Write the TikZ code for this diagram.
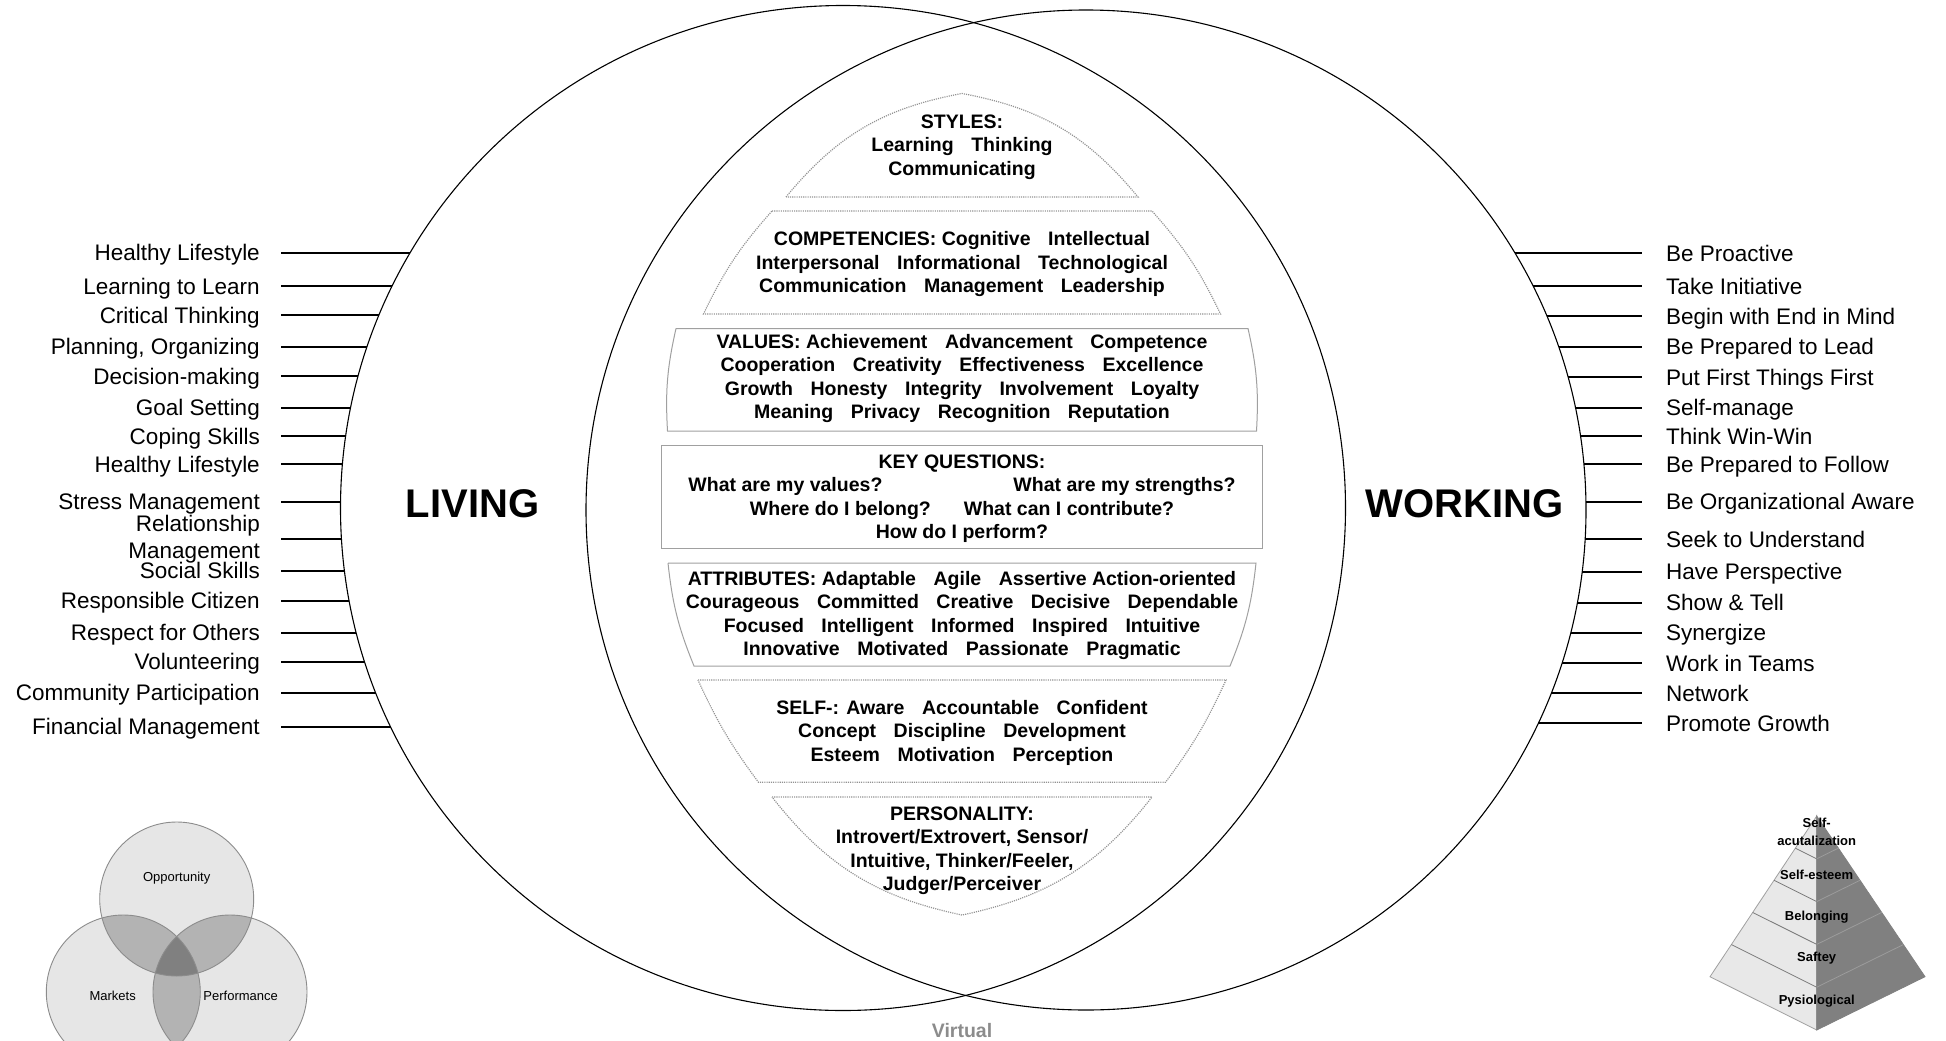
\documentclass[tikz,border=0pt]{standalone}
\usepackage{fontspec}
\setmainfont{Liberation Sans}
\usetikzlibrary{calc}
\newcommand\labfont{\fontsize{22.5pt}{26.7pt}\selectfont}
\newcommand\ctfont{\fontsize{19.5pt}{23.5pt}\selectfont\bfseries}
\newcommand\wsep{\hspace{0.9em}}
\definecolor{shapegray}{HTML}{A0A0A0}
\definecolor{dotgray}{HTML}{929292}
\definecolor{vennA}{HTML}{E6E6E6}
\definecolor{vennB}{HTML}{B3B3B3}
\definecolor{vennC}{HTML}{808080}
\definecolor{vennline}{HTML}{8C8C8C}
\definecolor{pyrlight}{HTML}{E8E8E8}
\definecolor{pyrdark}{HTML}{808080}
\definecolor{pyrlineL}{HTML}{7A7A7A}
\definecolor{pyrlineR}{HTML}{9C9C9C}
\definecolor{virt}{HTML}{8C8C8C}
\begin{document}
\begin{tikzpicture}[x=1pt,y=-1pt,
  bigcircle/.style={draw=black, line width=1.1pt},
  labline/.style={draw=black, line width=2pt},
  llab/.style={font=\labfont, anchor=east, inner sep=0pt, text height=16.2pt, text depth=0pt},
  rlab/.style={font=\labfont, anchor=west, inner sep=0pt, text height=16.2pt, text depth=0pt},
  dotbox/.style={draw=dotgray, dash pattern=on 1.1pt off 1.1pt, line width=1.2pt},
  solidbox/.style={draw=shapegray, line width=1pt},
  ctext/.style={font=\ctfont, align=center, inner sep=0pt},
  bigword/.style={font=\fontsize{40pt}{48pt}\selectfont\bfseries, anchor=base, inner sep=0pt},
  venncirc/.style={draw=vennline, line width=0.9pt},
  vennlab/.style={font=\fontsize{13pt}{15.6pt}\selectfont, inner sep=0pt},
  pyrlab/.style={font=\fontsize{13pt}{17.7pt}\selectfont\bfseries, align=center, inner sep=0pt},
]
\clip (0,0) rectangle (1946,1041);
\fill[white] (0,0) rectangle (1946,1041);

% big circles
\draw[bigcircle] (843,508) circle[radius=502.5pt];
\draw[bigcircle] (1086,510) circle[radius=500pt];

% big words
\node[bigword] (living) at (472.5,517) {LIVING};
\node[bigword] (working) at (1464.5,517) {WORKING};

% left labels
\node[llab] (L1) at (260,252.7) {Healthy Lifestyle};
\node[llab] (L2) at (260,286) {Learning to Learn};
\node[llab] (L3) at (260,315) {Critical Thinking};
\node[llab] (L4) at (260,346.7) {Planning, Organizing};
\node[llab] (L5) at (260,376) {Decision-making};
\node[llab] (L6) at (260,407.7) {Goal Setting};
\node[llab] (L7) at (260,436) {Coping Skills};
\node[llab] (L8) at (260,464.3) {Healthy Lifestyle};
\node[llab] (L9) at (260,501.7) {Stress Management};
\node[font=\labfont, anchor=east, inner sep=0pt, align=right] (L10) at (260,539.3) {Relationship\\Management};
\node[llab] (L11) at (260,570.7) {Social Skills};
\node[llab] (L12) at (260,600.7) {Responsible Citizen};
\node[llab] (L13) at (260,632.5) {Respect for Others};
\node[llab] (L14) at (260,661.7) {Volunteering};
\node[llab] (L15) at (260,692.7) {Community Participation};
\node[llab] (L16) at (260,726.7) {Financial Management};
\foreach \i/\y in {1/252.7,2/286,3/315,4/346.7,5/376,6/407.7,7/436,8/464.3,9/501.7,10/539.3,11/570.7,12/600.7,13/632.5,14/661.7,15/692.7,16/726.7}{
  \pgfmathsetmacro\cx{843-10*sqrt(50.25*50.25-((\y-508)/10)*((\y-508)/10))}
  \coordinate (cl\i) at (\cx,\y);
  \draw[labline] ([xshift=21pt]L\i.east) -- (cl\i);
}

% right labels
\node[rlab] (R1) at (1666,253) {Be Proactive};
\node[rlab] (R2) at (1666,286) {Take Initiative};
\node[rlab] (R3) at (1666,316.3) {Begin with End in Mind};
\node[rlab] (R4) at (1666,346.7) {Be Prepared to Lead};
\node[rlab] (R5) at (1666,377) {Put First Things First};
\node[rlab] (R6) at (1666,407.7) {Self-manage};
\node[rlab] (R7) at (1666,436) {Think Win-Win};
\node[rlab] (R8) at (1666,464.3) {Be Prepared to Follow};
\node[rlab] (R9) at (1666,501.7) {Be Organizational Aware};
\node[rlab] (R10) at (1666,539.3) {Seek to Understand};
\node[rlab] (R11) at (1666,571.7) {Have Perspective};
\node[rlab] (R12) at (1666,602.7) {Show \& Tell};
\node[rlab] (R13) at (1666,632.7) {Synergize};
\node[rlab] (R14) at (1666,663.3) {Work in Teams};
\node[rlab] (R15) at (1666,693.3) {Network};
\node[rlab] (R16) at (1666,723) {Promote Growth};
\foreach \i/\y in {1/253,2/286,3/316.3,4/346.7,5/377,6/407.7,7/436,8/464.3,9/501.7,10/539.3,11/571.7,12/602.7,13/632.7,14/663.3,15/693.3,16/723}{
  \pgfmathsetmacro\cx{1086+10*sqrt(50*50-((\y-510)/10)*((\y-510)/10))}
  \coordinate (cr\i) at (\cx,\y);
  \draw[labline] (cr\i) -- ([xshift=-24pt]R\i.west);
}

% central shapes
\draw[dotbox] (786,197) to[bend left=20] (962,93.5) to[bend left=20] (1138,197) -- (786,197);
\draw[dotbox] (772,211) -- (1152,211) to[bend left=8] (1220.5,314) -- (703.5,314) to[bend left=8] (772,211);
\draw[solidbox] (676,328.5) -- (1248,328.5) to[bend left=8] (1256.5,431) -- (667.5,431) to[bend left=8] (676,328.5);
\draw[solidbox] (661.5,445) rectangle (1262.5,548.3);
\draw[solidbox] (668,563) -- (1256,563) to[bend left=8] (1230,666) -- (694,666) to[bend left=8] (668,563);
\draw[dotbox] (698,680) -- (1226,680) to[bend left=6] (1165.5,782.3) -- (758.5,782.3) to[bend left=6] (698,680);
\draw[dotbox] (772,797) -- (1152,797) to[bend left=20] (962,915) to[bend left=20] (772,797);

% central texts
\node[ctext] (tstyles) at (962,147) {STYLES:\\Learning\wsep Thinking\\Communicating};
\node[ctext] (tcomp) at (962,264) {COMPETENCIES: Cognitive\wsep Intellectual\\Interpersonal\wsep Informational\wsep Technological\\Communication\wsep Management\wsep Leadership};
\node[ctext] (tvalues) at (962,378.5) {VALUES: Achievement\wsep Advancement\wsep Competence\\Cooperation\wsep Creativity\wsep Effectiveness\wsep Excellence\\Growth\wsep Honesty\wsep Integrity\wsep Involvement\wsep Loyalty\\Meaning\wsep Privacy\wsep Recognition\wsep Reputation};
\node[ctext] (tkey) at (962,498.5) {KEY QUESTIONS:\\What are my values?\hspace{131pt}What are my strengths?\\Where do I belong?\hspace{33pt}What can I contribute?\\How do I perform?};
\node[ctext] (tattr) at (962,615.5) {ATTRIBUTES: Adaptable\wsep Agile\wsep Assertive Action-oriented\\Courageous\wsep Committed\wsep Creative\wsep Decisive\wsep Dependable\\Focused\wsep Intelligent\wsep Informed\wsep Inspired\wsep Intuitive\\Innovative\wsep Motivated\wsep Passionate\wsep Pragmatic};
\node[ctext] (tself) at (962,732.5) {SELF-: Aware\wsep Accountable\wsep Confident\\Concept\wsep Discipline\wsep Development\\Esteem\wsep Motivation\wsep Perception};
\node[ctext] (tpers) at (962,850.5) {PERSONALITY:\\Introvert/Extrovert, Sensor/\\Intuitive, Thinker/Feeler,\\Judger/Perceiver};

\node[font=\fontsize{19.5pt}{23pt}\selectfont\bfseries, text=virt, anchor=base, inner sep=0pt] (virtual) at (962,1037) {Virtual};

% Venn diagram
\coordinate (vo) at (176.7,899);
\coordinate (vm) at (123.3,992);
\coordinate (vp) at (230,992);
\fill[vennA] (vo) circle[radius=77pt] (vm) circle[radius=77pt] (vp) circle[radius=77pt];
\begin{scope}
  \clip (vo) circle[radius=77pt];
  \fill[vennB] (vm) circle[radius=77pt] (vp) circle[radius=77pt];
\end{scope}
\begin{scope}
  \clip (vm) circle[radius=77pt];
  \fill[vennB] (vp) circle[radius=77pt];
\end{scope}
\begin{scope}
  \clip (vo) circle[radius=77pt];
  \clip (vm) circle[radius=77pt];
  \fill[vennC] (vp) circle[radius=77pt];
\end{scope}
\draw[venncirc] (vo) circle[radius=77pt];
\draw[venncirc] (vm) circle[radius=77pt];
\draw[venncirc] (vp) circle[radius=77pt];
\node[vennlab] (vopp) at (176.7,877.7) {Opportunity};
\node[vennlab] (vmark) at (112.7,995.7) {Markets};
\node[vennlab] (vperf) at (240.7,995.7) {Performance};

% Pyramid
\coordinate (pa) at (1816.7,816);
\coordinate (pl) at (1710,976.7);
\coordinate (pr) at (1925,976.7);
\coordinate (pf) at (1816.7,1030);
\filldraw[fill=pyrlight, draw=shapegray, line width=0.8pt] (pa) -- (pl) -- (pf) -- cycle;
\filldraw[fill=pyrdark, draw=pyrdark, line width=0.8pt] (pa) -- (pf) -- (pr) -- cycle;
\foreach \t in {0.2,0.4,0.6,0.8}{
  \draw[pyrlineL, line width=0.8pt] ($(pa)!\t!(pl)$) -- ($(pa)!\t!(pf)$);
  \draw[pyrlineR, line width=0.8pt] ($(pa)!\t!(pf)$) -- ($(pa)!\t!(pr)$);
}
\node[pyrlab] (py1) at (1816.7,832) {Self-\\acutalization};
\node[pyrlab] (py2) at (1816.7,875) {Self-esteem};
\node[pyrlab] (py3) at (1816.7,916.7) {Belonging};
\node[pyrlab] (py4) at (1816.7,958.3) {Saftey};
\node[pyrlab] (py5) at (1816.7,1000.7) {Pysiological};
\end{tikzpicture}
\end{document}
